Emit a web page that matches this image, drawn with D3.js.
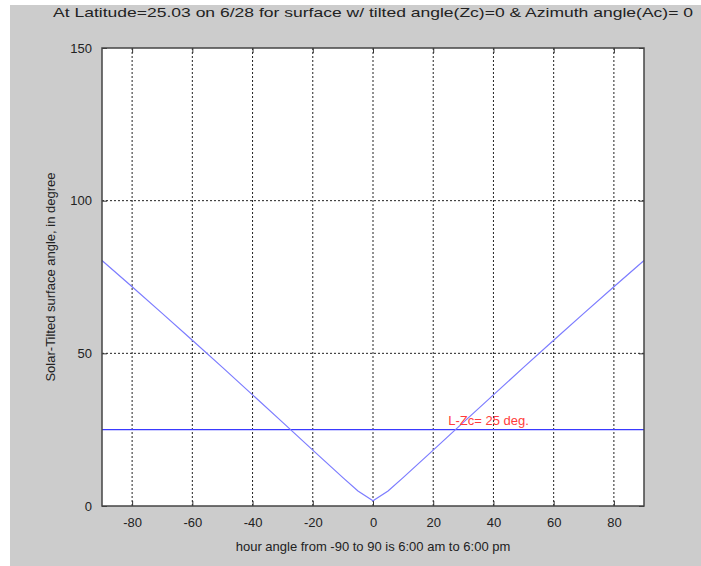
<!DOCTYPE html>
<html>
<head>
<meta charset="utf-8">
<style>
  body { margin: 0; background: #fff; }
  svg text { font-family: "Liberation Sans", Arial, sans-serif; }
</style>
</head>
<body>
<svg width="701" height="566"></svg>
<script src="https://d3js.org/d3.v7.min.js"></script>
<script>

  // hour angle (deg) and solar-tilted surface angle (deg)
  var hourAngles = [-90, -80, -70, -60, -50, -40, -30, -20, -10, -5, 0, 5, 10, 20, 30, 40, 50, 60, 70, 80, 90];
  var surfaceAngles = [80.4, 71.8, 63.1, 54.3, 45.4, 36.4, 27.4, 18.3, 9.3, 4.9, 1.7, 4.9, 9.3, 18.3, 27.4, 36.4, 45.4, 54.3, 63.1, 71.8, 80.4];
  var tiltLimit = 25;   // L - Zc
  var xTicks = [-80, -60, -40, -20, 0, 20, 40, 60, 80];
  var yTicks = [0, 50, 100, 150];

  var svg = d3.select("svg"),
    margin = { top: 48, right: 57, bottom: 60, left: 102 },
    width = +svg.attr("width") - margin.left - margin.right,
    height = +svg.attr("height") - margin.top - margin.bottom;

  // grey figure background, white strip top/left from the page crop
  svg.append("rect")
    .attr("x", 10).attr("y", 5)
    .attr("width", 701 - 10).attr("height", 566 - 5)
    .attr("fill", "#cccccc");

  var g = svg.append("g").attr("transform", "translate(" + margin.left + "," + margin.top + ")");

  var x = d3.scaleLinear().domain([-90, 90]).range([0, width]);
  var y = d3.scaleLinear().domain([0, 150]).range([height, 0]);

  g.append("rect")
    .attr("width", width)
    .attr("height", height)
    .attr("fill", "#fff");

  // dotted grid
  g.append("g")
    .selectAll("line")
    .data(xTicks)
    .join("line")
    .attr("x1", function (d) { return x(d); })
    .attr("x2", function (d) { return x(d); })
    .attr("y1", 0).attr("y2", height)
    .attr("stroke", "#222").attr("stroke-width", 1)
    .attr("stroke-dasharray", "2,2");

  g.append("g")
    .selectAll("line")
    .data(yTicks.slice(1, -1))
    .join("line")
    .attr("y1", function (d) { return y(d); })
    .attr("y2", function (d) { return y(d); })
    .attr("x1", 0).attr("x2", width)
    .attr("stroke", "#222").attr("stroke-width", 1)
    .attr("stroke-dasharray", "2,2");

  // axes (ticks inward, like matlab)
  var plain = function (d) { return String(d); };
  var xAxis = d3.axisBottom(x).tickValues(xTicks).tickFormat(plain).tickSizeInner(-5).tickSizeOuter(0).tickPadding(12);
  var yAxis = d3.axisLeft(y).tickValues(yTicks).tickFormat(plain).tickSizeInner(-5).tickSizeOuter(0).tickPadding(10);

  var xg = g.append("g").attr("transform", "translate(0," + height + ")").call(xAxis);
  var yg = g.append("g").call(yAxis);
  g.append("g").call(d3.axisTop(x).tickValues(xTicks).tickSizeInner(-5).tickSizeOuter(0).tickFormat(""));
  g.append("g").attr("transform", "translate(" + width + ",0)")
    .call(d3.axisRight(y).tickValues(yTicks).tickSizeInner(-5).tickSizeOuter(0).tickFormat(""));

  g.selectAll(".domain").remove();
  g.selectAll(".tick line").attr("stroke", "#333");
  xg.selectAll("text").attr("font-size", 13).attr("fill", "#222");
  yg.selectAll("text").attr("font-size", 13).attr("fill", "#222");

  // data lines
  var line = d3.line()
    .x(function (d, i) { return x(hourAngles[i]); })
    .y(function (d) { return y(d); });

  g.append("line")
    .attr("x1", x(-90)).attr("x2", x(90))
    .attr("y1", y(tiltLimit)).attr("y2", y(tiltLimit))
    .attr("stroke", "#3a3aff").attr("stroke-width", 1.3);

  g.append("path")
    .datum(surfaceAngles)
    .attr("d", line)
    .attr("fill", "none")
    .attr("stroke", "#7c7cff")
    .attr("stroke-width", 1.2);

  g.append("text")
    .attr("x", x(25))
    .attr("y", y(tiltLimit) - 5)
    .attr("font-size", 13)
    .attr("fill", "#ff3c3c")
    .text("L-Zc= 25 deg.");

  // box
  g.append("rect")
    .attr("width", width)
    .attr("height", height)
    .attr("fill", "none")
    .attr("stroke", "#444")
    .attr("stroke-width", 1.5);

  // titles
  svg.append("text")
    .attr("x", margin.left + width / 2)
    .attr("y", 17)
    .attr("text-anchor", "middle")
    .attr("font-size", 13)
    .attr("fill", "#222")
    .attr("textLength", 640)
    .attr("lengthAdjust", "spacingAndGlyphs")
    .text("At Latitude=25.03 on 6/28 for surface w/ tilted angle(Zc)=0 & Azimuth angle(Ac)= 0");

  svg.append("text")
    .attr("x", margin.left + width / 2)
    .attr("y", 551)
    .attr("text-anchor", "middle")
    .attr("font-size", 13)
    .attr("fill", "#222")
    .text("hour angle from -90 to 90 is 6:00 am to 6:00 pm");

  svg.append("text")
    .attr("transform", "translate(55," + (margin.top + height / 2) + ") rotate(-90)")
    .attr("text-anchor", "middle")
    .attr("font-size", 13)
    .attr("fill", "#222")
    .text("Solar-Tilted surface angle, in degree");

</script>
</body>
</html>
